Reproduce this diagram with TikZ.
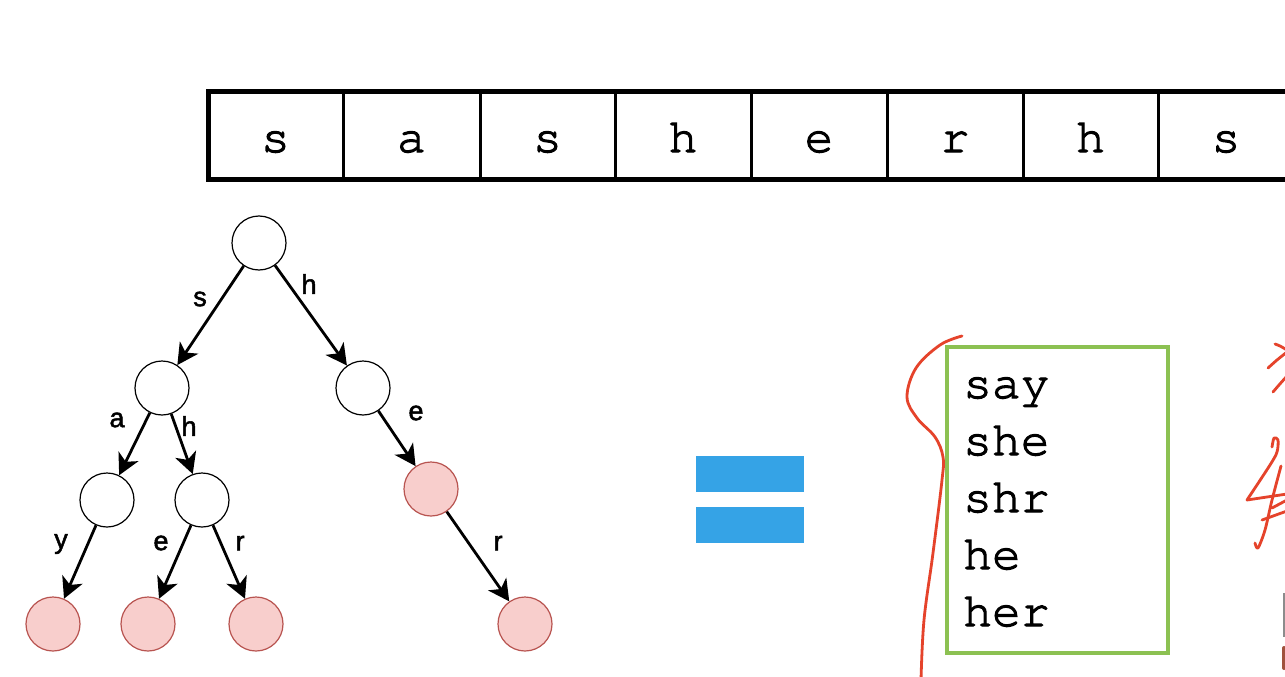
\documentclass[tikz,border=0pt]{standalone}
\usepackage{fontspec}
\newfontfamily\lblfont{Liberation Sans}
\usetikzlibrary{arrows.meta}
\definecolor{pinkfill}{HTML}{F8CECC}
\definecolor{pinkdraw}{HTML}{B85450}
\definecolor{eqblue}{HTML}{35A3E6}
\definecolor{boxgreen}{HTML}{8CC152}
\definecolor{inkred}{HTML}{E5432B}
\definecolor{inkbrown}{HTML}{A0523D}
\newcommand{\courfont}{\fontencoding{T1}\fontfamily{pcr}\selectfont}
\newcommand{\thicktxt}[1]{\special{pdf:literal direct 0 G 2 Tr 1.1 w}#1\special{pdf:literal direct 0 Tr}}
\newcommand{\semitxt}[1]{\special{pdf:literal direct 0 G 2 Tr 0.5 w}#1\special{pdf:literal direct 0 Tr}}
\tikzset{
  cellltr/.style={anchor=base, inner sep=0pt, font=\courfont\fontsize{48}{56}\selectfont},
  wordtxt/.style={anchor=base west, inner sep=0pt, font=\courfont\fontsize{48}{56}\selectfont},
  plainnode/.style={circle, draw=black, line width=1.2pt, fill=white, minimum size=54pt, inner sep=0pt},
  endnode/.style={circle, draw=pinkdraw, line width=1.2pt, fill=pinkfill, minimum size=54pt, inner sep=0pt},
  edgearrow/.style={line width=2.8pt, -{Stealth[length=21pt,width=22pt,inset=6pt]}},
  edgelbl/.style={inner sep=0pt, font=\lblfont\fontsize{27}{32}\selectfont},
  ink/.style={draw=inkred, line width=2.8pt, line cap=round, line join=round},
}
\begin{document}
\begin{tikzpicture}[x=1pt,y=-1pt]
\useasboundingbox (0,0) rectangle (1285,677);
\fill[white] (0,0) rectangle (1285,677);
\clip (0,0) rectangle (1285,677);

% ---- string strip ----
\foreach \xd in {343,480,615,751,887,1023,1158}
  \draw[line width=3pt] (\xd,91.5) -- (\xd,179);
\draw[line width=5pt] (1300,91.5) -- (208,91.5) -- (208,179) -- (1300,179);
\node[cellltr] (c1) at (275.5,152) {\thicktxt{s}};
\node[cellltr] (c2) at (411.5,152) {\thicktxt{a}};
\node[cellltr] (c3) at (547.5,152) {\thicktxt{s}};
\node[cellltr] (c4) at (683,152) {\thicktxt{h}};
\node[cellltr] (c5) at (819,152) {\thicktxt{e}};
\node[cellltr] (c6) at (955,152) {\thicktxt{r}};
\node[cellltr] (c7) at (1090.5,152) {\thicktxt{h}};
\node[cellltr] (c8) at (1226,152) {\thicktxt{s}};

% ---- trie ----
\node[plainnode] (root) at (259,243) {};
\node[plainnode] (ns) at (162,388) {};
\node[plainnode] (nh) at (363,388) {};
\node[plainnode] (nsa) at (107,500) {};
\node[plainnode] (nsh) at (202,500) {};
\node[endnode] (nhe) at (431,489) {};
\node[endnode] (nsay) at (53,624) {};
\node[endnode] (nshe) at (148,624) {};
\node[endnode] (nshr) at (256,624) {};
\node[endnode] (nher) at (525,624) {};

\draw[edgearrow] (root) -- (ns);
\draw[edgearrow] (root) -- (nh);
\draw[edgearrow] (ns) -- (nsa);
\draw[edgearrow] (ns) -- (nsh);
\draw[edgearrow] (nh) -- (nhe);
\draw[edgearrow] (nsa) -- (nsay);
\draw[edgearrow] (nsh) -- (nshe);
\draw[edgearrow] (nsh) -- (nshr);
\draw[edgearrow] (nhe) -- (nher);

\node[edgelbl] (ls) at (200,299) {\semitxt{s}};
\node[edgelbl] (lh) at (309,284) {\semitxt{h}};
\node[edgelbl] (la) at (117,420) {\semitxt{a}};
\node[edgelbl] (lh2) at (189,426) {\semitxt{h}};
\node[edgelbl] (le) at (416,413) {\semitxt{e}};
\node[edgelbl] (ly) at (61,544) {\semitxt{y}};
\node[edgelbl] (le2) at (161,543) {\semitxt{e}};
\node[edgelbl] (lr) at (240,543) {\semitxt{r}};
\node[edgelbl] (lr2) at (498,543) {\semitxt{r}};

% ---- equals sign ----
\fill[eqblue] (696,456) rectangle (804,492);
\fill[eqblue] (696,507) rectangle (804,543);

% ---- word box ----
\node[draw=boxgreen, line width=4pt, minimum width=221pt, minimum height=306pt, inner sep=0pt] (box) at (1057.5,500) {};
\node[wordtxt] (w1) at (963,398) {\thicktxt{say}};
\node[wordtxt] (w2) at (963,455) {\thicktxt{she}};
\node[wordtxt] (w3) at (963,512) {\thicktxt{shr}};
\node[wordtxt] (w4) at (963,569) {\thicktxt{he}};
\node[wordtxt] (w5) at (963,626) {\thicktxt{her}};

% ---- handwriting ----
\draw[ink] plot[smooth, tension=0.6] coordinates {(962,336) (940,345) (916,368) (907,397) (917,418) (935,437) (943,457) (942,480) (933,553) (924,620) (921,680)};
% top-right mark
\draw[ink] plot[smooth] coordinates {(1268,368) (1277,360) (1287,352)};
\draw[ink] plot[smooth] coordinates {(1275,344) (1280,346) (1287,350)};
\draw[ink] plot[smooth] coordinates {(1273,392) (1279,385) (1287,376)};
% "4"-like mark
\draw[ink] plot[smooth, tension=0.5] coordinates {(1272,447) (1274,438) (1278,440) (1277,452) (1270,465) (1247,500)};
\draw[ink] (1247,500) -- (1287,494);
\draw[ink] plot[smooth] coordinates {(1281,466) (1272,500) (1265,530) (1258,548) (1255,543)};
\draw[ink] (1262,520) -- (1287,511);
\draw[ink] (1272,508) -- (1287,500);
% bottom-right marks
\draw[draw=black!45, line width=1.5pt] (1284,593) -- (1284,637);
\draw[draw=inkbrown, line width=4pt, line cap=round] (1284,648) -- (1284,668);
\end{tikzpicture}
\end{document}
